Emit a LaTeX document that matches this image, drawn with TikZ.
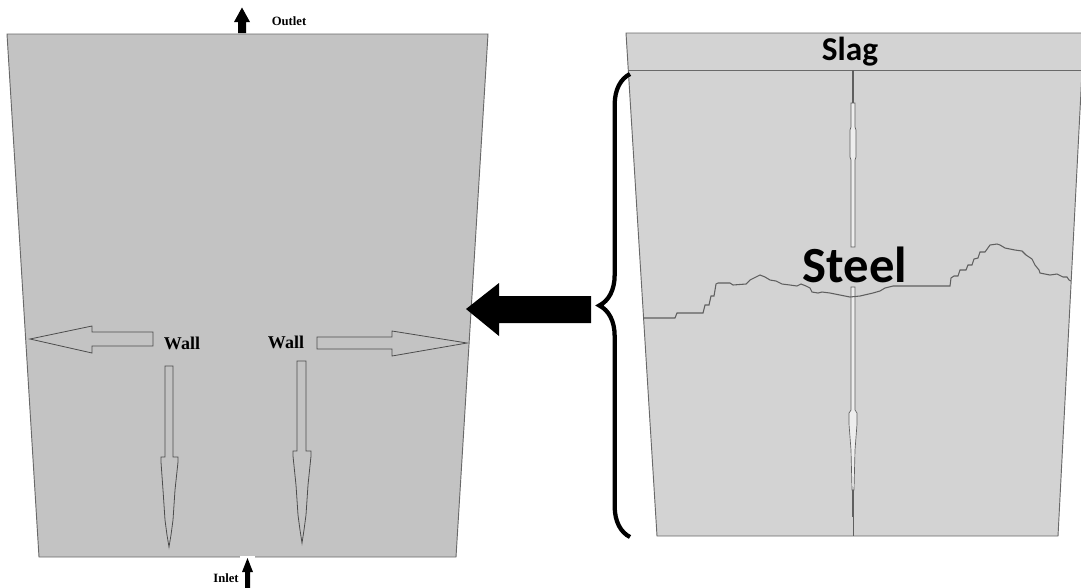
\documentclass[tikz,border=0pt]{standalone}
\usepackage{fontspec}
\setmainfont{Liberation Serif}
\newfontfamily\calibri{Carlito}
\definecolor{mould}{RGB}{195,195,195}
\definecolor{bath}{RGB}{211,211,211}
\definecolor{edge}{RGB}{105,105,105}
\definecolor{probe}{RGB}{95,95,95}
\usetikzlibrary{decorations.pathreplacing,calc}

\begin{document}
\begin{tikzpicture}[x=0.75pt,y=-0.75pt,
    wallarrow/.style={draw=black!70, line width=0.6pt, fill=mould, line join=miter},
    flowarrow/.style={fill=black},
    tag/.style={font=\bfseries\fontsize{9.5}{11}\selectfont, inner sep=0pt},
    walltag/.style={font=\bfseries\fontsize{13.5}{15}\selectfont, inner sep=0pt},
    phase/.style={font=\calibri\bfseries, inner sep=0pt}]
  \useasboundingbox (0,0) rectangle (1081,587);
  % left: mould domain
  \fill[mould] (7,34) -- (488,34) -- (456,557) -- (39,557) -- cycle;
  \draw[edge, line width=0.7pt] (240,557) -- (39,557) -- (7,34) -- (488,34) -- (456,557) -- (255,557);
  \draw[white, line width=1.2pt] (240,557) -- (255,557);
  % outlet / inlet
  \fill[flowarrow] (242,7.5) -- (250,22) -- (246,22) -- (246,33) -- (238,33) -- (238,22) -- (234,22) -- cycle;
  \node[tag] (outlet) at (289,21) {Outlet};
  \fill[flowarrow] (247.5,558) -- (253,572) -- (250,572) -- (250,590) -- (245,590) -- (245,572) -- (242,572) -- cycle;
  \node[tag] (inlet) at (226,578) {Inlet};
  % wall arrows
  \draw[wallarrow] (30,339) -- (92,326) -- (92,332) -- (153,332) -- (153,346) -- (92,346) -- (92,353) -- cycle;
  \draw[wallarrow] (317,337) -- (392,337) -- (392,331) -- (467,343) -- (392,356) -- (392,349) -- (317,349) -- cycle;
  \draw[wallarrow] (165,366) -- (173,366) -- (173,457) -- (178,457) -- (178,462) -- (175,490) -- (173,520) -- (171,535) -- (169,547)
    -- (167,535) -- (165,520) -- (163,490) -- (161,462) -- (161,457) -- (165,457) -- cycle;
  \draw[wallarrow] (297,361) -- (306,361) -- (306,451) -- (311,451) -- (311,456) -- (308,485) -- (306,515) -- (304,530) -- (302,543)
    -- (300,530) -- (298,515) -- (296,485) -- (293,456) -- (293,451) -- (297,451) -- cycle;
  \node[walltag] (wallL) at (182,343) {Wall};
  \node[walltag] (wallR) at (286,342) {Wall};
  % big arrow
  \fill[flowarrow] (466,309) -- (499,283) -- (499,296) -- (591,296) -- (591,323) -- (499,323) -- (499,336) -- cycle;
  % right: slag and steel
  \draw[edge, fill=bath, line width=0.7pt] (626,33) -- (1084,33) -- (1058,536) -- (657,536) -- cycle;
  \draw[edge, line width=0.7pt] (629,70) -- (1082,70);
  \node[phase, font=\calibri\bfseries\fontsize{25}{28}\selectfont] (slag) at (850,52) {Slag};
  % probe
  \draw[probe, line width=0.8pt] (853,70) -- (853,103);
  \draw[probe, fill=bath!40!white, line width=0.5pt] (851,103) -- (851,127) -- (850,130) -- (850,157) -- (851,160) -- (851,247)
    -- (855,247) -- (855,160) -- (856,157) -- (856,130) -- (855,127) -- (855,103) -- cycle;
  \draw[probe, fill=bath!40!white, line width=0.5pt] (851,287) -- (851,410) -- (849,413) -- (849,424) -- (851,450) -- (852,490)
    -- (854,490) -- (855,450) -- (857,424) -- (857,413) -- (855,410) -- (855,287) -- cycle;
  \draw[probe, line width=0.9pt] (853,490) -- (853,517);
  \draw[probe, line width=0.5pt] (853,517) -- (853,536);
  % interface
  \draw[probe, line width=0.8pt] (643,318) -- (675,318) -- (677,313) -- (703,313) -- (705,305) -- (709,305) -- (711,296) -- (714,296)
    -- (716,284) -- (718,283) -- (730,283) -- (733,285) -- (746,284) -- (750,280) -- (754,278) -- (760,275) -- (765,277)
    -- (770,280) -- (776,281) -- (782,284) -- (790,285) -- (797,286) -- (801,284) -- (806,286) -- (810,288) -- (812,292)
    -- (818,293) -- (822,292) -- (830,293) -- (840,295) -- (850,297) -- (860,296) -- (873,293) -- (880,291) -- (885,288)
    -- (893,286) -- (950,286) -- (951,278) -- (954,276) -- (958,276) -- (960,270) -- (966,270) -- (968,265) -- (972,265)
    -- (974,259) -- (978,258) -- (980,252) -- (985,252) -- (990,245) -- (997,244) -- (1000,245) -- (1005,248) -- (1015,250)
    -- (1022,251) -- (1026,255) -- (1032,259) -- (1035,265) -- (1039,270) -- (1040,273) -- (1050,275) -- (1057,274)
    -- (1063,277) -- (1067,277) -- (1069,280) -- (1071,281);
  \node[phase, font=\calibri\bfseries\fontsize{38}{44}\selectfont] (steel) at (855,265) {Steel};
  % brace
  \draw[decorate, decoration={brace, amplitude=23pt}, line width=3.2pt] (630,537) -- (630,74);
\end{tikzpicture}
\end{document}
